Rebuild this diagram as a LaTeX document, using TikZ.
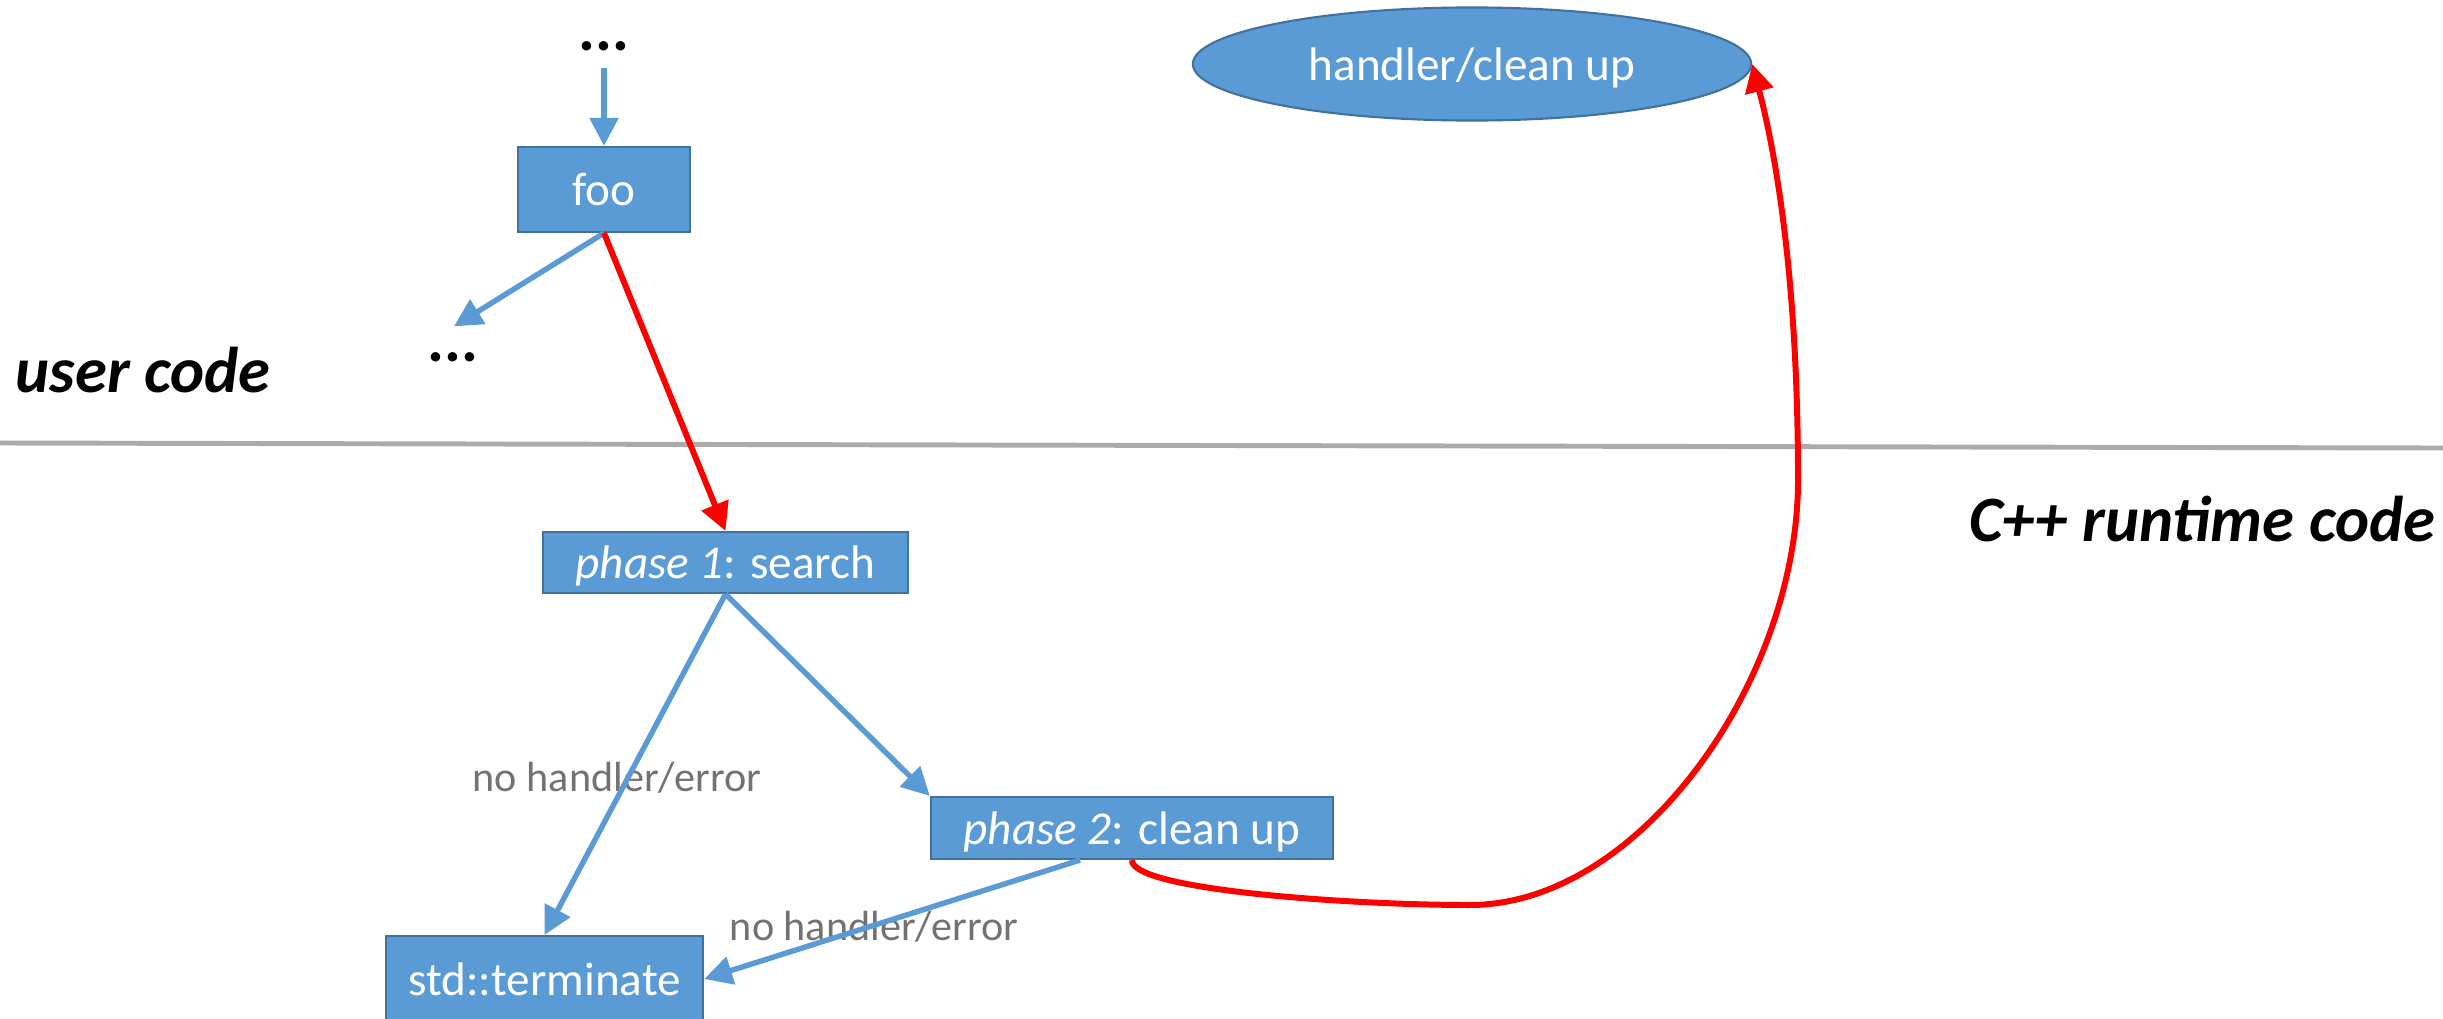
\documentclass[tikz,border=0pt]{standalone}
\usepackage{fontspec}
\setmainfont{Carlito}
\usetikzlibrary{arrows.meta,shapes.geometric,calc}
\definecolor{boxblue}{HTML}{5B9BD5}
\definecolor{boxedge}{HTML}{41719C}
\definecolor{labelgray}{HTML}{767171}
\definecolor{rulegray}{HTML}{AEAAAA}
\begin{document}
\begin{tikzpicture}[x=0.01cm,y=-0.01cm,
  box/.style={draw=boxedge, fill=boxblue, line width=0.6pt, text=white,
    font=\fontsize{13.4}{16}\selectfont, inner sep=0pt, text depth=0pt},
  flow/.style={draw=boxblue, line width=1.55pt, -{Triangle[length=0.28cm,width=0.28cm]}},
  hot/.style={draw=red, line width=1.7pt, -{Triangle[length=0.28cm,width=0.28cm]}},
  note/.style={text=labelgray, font=\fontsize{12}{14}\selectfont, inner sep=0pt, anchor=base},
  zone/.style={font=\fontsize{18.4}{21}\selectfont\bfseries\itshape, inner sep=0pt},
  more/.style={font=\fontsize{18}{20}\selectfont\bfseries, inner xsep=0pt, anchor=base},
]
\useasboundingbox (0,0) rectangle (2443,1018);
\clip (0,0) rectangle (2443,1018);

% boundary between user code and runtime code
\draw[rulegray, line width=1.4pt] (0,443) -- (2443,448);
\node[zone, anchor=base west] (user) at (15,392) {user code};
\node[zone, anchor=base east] (rt) at (2436,541) {C++ runtime code};

% nodes
\node[more, inner ysep=0.16cm] (d1) at (604,51) {...};
\node[more, inner ysep=0pt] (d2) at (453,361) {...};
\node[box, minimum width=1.72cm, minimum height=0.85cm] (foo) at (604,189.5) {foo};
\node[box, ellipse, minimum width=5.58cm, minimum height=1.13cm] (hc) at (1472,64) {handler/clean up};
\node[box, minimum width=3.65cm, minimum height=0.61cm] (p1) at (725.5,562.5) {\textit{phase 1}: search};
\node[box, minimum width=4.02cm, minimum height=0.62cm] (p2) at (1132,828) {\textit{phase 2}: clean up};
\node[box, minimum width=3.17cm, minimum height=0.86cm] (term) at (544.5,979) {std::terminate};

% labels
\node[note] (l1) at (617,791) {no handler/error};
\node[note] (l2) at (874,940) {no handler/error};

% normal flow
\draw[flow] (d1.south) -- (foo.north);
\draw[flow] (foo.south) -- ($(d2.north)+(1,-25)$);
\draw[flow] (p1.south) -- (term.north);
\draw[flow] (p1.south) -- (p2.north west);
\draw[flow] ($(p2.south)+(-52,0)$) -- (term.east);

% exception path
\draw[hot] (foo.south) -- (p1.north);
\draw[hot] (p2.south) .. controls (1131,890) and (1350,905) .. (1470,905)
  .. controls (1640,905) and (1798,680) .. (1798,480)
  .. controls (1798,300) and (1780,170) .. (hc.east);
\end{tikzpicture}
\end{document}
